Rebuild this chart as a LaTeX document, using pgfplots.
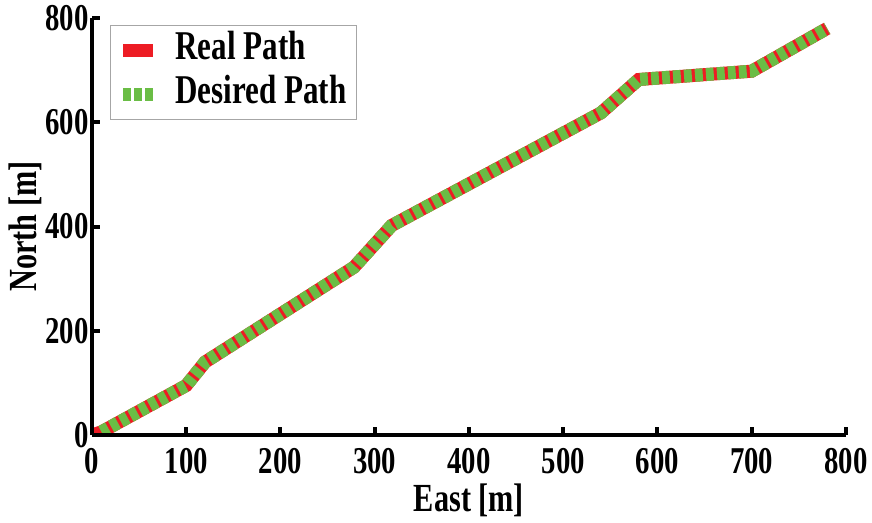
\documentclass[border=0pt]{standalone}
\usepackage{fontspec}
\setmainfont{Liberation Serif}[FakeStretch=0.76]
\usepackage{pgfplots}
\pgfplotsset{compat=1.18}
\definecolor{rp}{RGB}{237,28,36}
\definecolor{dp}{RGB}{106,189,69}
\begin{document}
\begin{tikzpicture}
\begin{axis}[at={(0,0)}, anchor=south west, scale only axis,
  width=377bp, height=208.5bp,
  xmin=0, xmax=800, ymin=0, ymax=800,
  xtick={0,100,...,800}, ytick={0,200,...,800},
  axis lines=left, axis line style={-, line width=2bp, black},
  tick style={line width=2bp, black}, major tick length=4bp, tick align=inside,
  axis on top,
  /pgf/number format/assume math mode=true,
  ticklabel style={font=\fontsize{19}{21}\selectfont\bfseries},
  xticklabel style={inner ysep=2bp, yshift=-4.5bp},
  yticklabel style={inner xsep=1.5bp},
  label style={font=\fontsize{20}{22}\selectfont\bfseries},
  xlabel={East [m]}, ylabel={North [m]},
  xlabel style={at={(axis description cs:0.5,0)}, anchor=center, yshift=-32.5bp},
  ylabel style={at={(axis description cs:-0.0889,0.5)}, anchor=center},
  legend style={at={(axis description cs:0,1)}, anchor=north west, xshift=9bp, yshift=-3.5bp,
    draw=gray!70, line width=0.5bp, font=\fontsize{20.5}{22}\selectfont\bfseries,
    inner xsep=3bp, inner ysep=2bp, row sep=1bp,
    nodes={text height=13bp, text depth=4bp, inner ysep=2bp}},
  legend cell align=left,
  legend image code/.code={\draw[#1, line cap=butt] (0bp,0bp) -- (15bp,0bp);},
  /tikz/every odd column/.append style={column sep=6bp},
]
\addplot[rp, line width=6.5bp, line cap=butt] coordinates {
  (0,0) (10,6) (100,95) (120,140) (278,322) (318,402) (540,618) (580,682) (700,698) (780,780)};
\addlegendentry{Real Path}
\addplot[dp, line width=6.5bp, line cap=butt, dash pattern=on 3.9bp off 1.6bp] coordinates {
  (10,6) (100,95) (120,140) (278,322) (318,402) (540,618) (580,682) (700,698) (780,780)};
\addlegendentry{Desired Path}
\end{axis}
\pgfresetboundingbox
\useasboundingbox (-46bp,-44bp) rectangle (390bp,217.5bp);
\end{tikzpicture}
\end{document}
